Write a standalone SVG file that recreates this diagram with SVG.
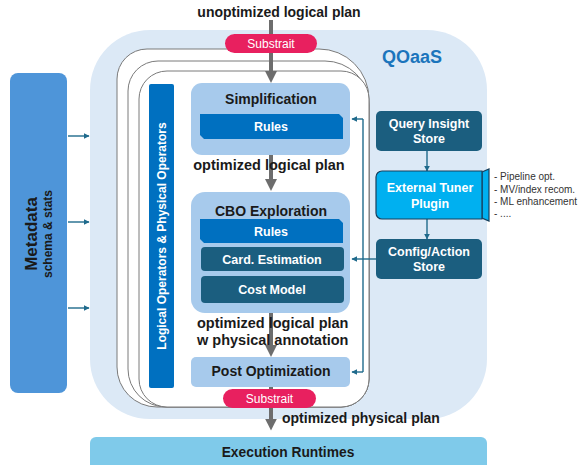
<svg xmlns="http://www.w3.org/2000/svg" width="579" height="465" viewBox="0 0 579 465">
<defs>
<style>
text{font-family:"Liberation Sans",Arial,sans-serif;}
.b{font-weight:bold;}
.w{fill:#ffffff;}
.k{fill:#1a1a1a;}
.frame{fill:#ffffff;stroke:#7a7a7a;stroke-width:1;}
.lb{fill:#a7caec;}
.teal{fill:#1b5e7f;}
.pill{fill:#e8205f;}
.flow{stroke:#6d6d6d;stroke-width:4;fill:none;}
.thin{stroke:#1f6a8c;stroke-width:1.4;fill:none;}
</style>
<marker id="ga" viewBox="0 0 10 10" refX="2" refY="5" markerWidth="12" markerHeight="12" markerUnits="userSpaceOnUse" orient="auto">
<path d="M0,0 L10,5 L0,10 z" fill="#6d6d6d"/>
</marker>
<marker id="ta" viewBox="0 0 10 10" refX="9" refY="5" markerWidth="6" markerHeight="6" markerUnits="userSpaceOnUse" orient="auto">
<path d="M0,0 L10,5 L0,10 z" fill="#1f6a8c"/>
</marker>
</defs>

<g id="qoaas">
<path d="M150 30 H427 A60 60 0 0 1 487 90 V359 A60 60 0 0 1 427 419 H150 A60 60 0 0 1 90 359 V90 A60 60 0 0 1 150 30 Z" fill="#dce9f6"/>
<text x="412" y="62.5" class="b" font-size="18" fill="#1b75bc" text-anchor="middle">QOaaS</text>
</g>

<g id="metadata">
<rect x="10" y="73" width="57" height="320" rx="8" fill="#4e95d9"/>
<text transform="translate(37,234) rotate(-90)" class="b k" font-size="17" text-anchor="middle">Metadata</text>
<text transform="translate(52,234) rotate(-90)" class="b k" font-size="12" text-anchor="middle">schema &amp; stats</text>
</g>

<g id="frames">
<path class="frame" d="M147 49 H319 A50 50 0 0 1 369 99 V379 A28 28 0 0 1 341 407 H157 A40 40 0 0 1 117 367 V79 A30 30 0 0 1 147 49 Z"/>
<path class="frame" d="M158 61 H325 A44 44 0 0 1 369 105 V379 A28 28 0 0 1 341 407 H166 A38 38 0 0 1 128 369 V91 A30 30 0 0 1 158 61 Z"/>
<rect class="frame" x="139" y="71" width="230" height="336" rx="28"/>
</g>

<g id="operators-bar">
<rect x="149" y="84" width="25" height="304" rx="2" fill="#0070c0"/>
<text transform="translate(166,236) rotate(-90)" class="b w" font-size="12" text-anchor="middle">Logical Operators &amp; Physical Operators</text>
</g>

<g id="execution">
<rect x="90" y="437" width="397" height="40" rx="6" fill="#7fcaea"/>
<text x="288" y="457" class="b k" font-size="13.8" text-anchor="middle">Execution Runtimes</text>
</g>

<g id="connectors">
<line class="flow" x1="271" y1="20" x2="271" y2="73.4" marker-end="url(#ga)"/>
<line class="flow" x1="271" y1="155" x2="271" y2="181.4" marker-end="url(#ga)"/>
<line class="flow" x1="271" y1="313" x2="271" y2="347.4" marker-end="url(#ga)"/>
<line class="flow" x1="271" y1="387" x2="271" y2="421" marker-end="url(#ga)"/>
<line class="thin" x1="68" y1="136" x2="89" y2="136" marker-end="url(#ta)"/>
<line class="thin" x1="68" y1="222" x2="89" y2="222" marker-end="url(#ta)"/>
<line class="thin" x1="68" y1="308" x2="89" y2="308" marker-end="url(#ta)"/>
<polyline class="thin" points="363,119 363,372"/>
<line class="thin" x1="363" y1="119" x2="352" y2="119" marker-end="url(#ta)"/>
<line class="thin" x1="363" y1="372" x2="352" y2="372" marker-end="url(#ta)"/>
<line class="thin" x1="376" y1="259" x2="352" y2="259" marker-end="url(#ta)"/>
<line class="thin" x1="427" y1="151" x2="427" y2="171" marker-end="url(#ta)"/>
<line class="thin" x1="427" y1="219" x2="427" y2="239" marker-end="url(#ta)"/>
</g>

<g id="substrait-in">
<rect class="pill" x="225" y="34" width="92" height="19" rx="9.5"/>
<text x="271" y="48" class="w" font-size="12" text-anchor="middle">Substrait</text>
</g>
<text x="279" y="16.5" class="b k" font-size="14" text-anchor="middle">unoptimized logical plan</text>

<g id="simplification">
<rect class="lb" x="191" y="83" width="159" height="72" rx="11"/>
<text x="271" y="104" class="b k" font-size="14" text-anchor="middle">Simplification</text>
<polygon points="200,114 339,114 343,118 343,139 204,139 200,135" fill="#0070c0"/>
<text x="271" y="131" class="b w" font-size="12.5" text-anchor="middle">Rules</text>
</g>

<text x="269" y="170" class="b k" font-size="14.5" text-anchor="middle">optimized logical plan</text>

<g id="cbo">
<rect class="lb" x="191" y="192" width="159" height="121" rx="14"/>
<text x="271" y="216" class="b k" font-size="14" text-anchor="middle">CBO Exploration</text>
<polygon points="200,219 339,219 343,223 343,243 204,243 200,239" fill="#0070c0"/>
<text x="271" y="235.5" class="b w" font-size="12.5" text-anchor="middle">Rules</text>
<rect class="teal" x="201" y="247" width="143" height="24" rx="4"/>
<text x="272" y="263.5" class="b w" font-size="12.5" text-anchor="middle">Card. Estimation</text>
<rect class="teal" x="201" y="276" width="143" height="27" rx="4"/>
<text x="272" y="293.5" class="b w" font-size="12.5" text-anchor="middle">Cost Model</text>
</g>

<text x="197" y="328" class="b k" font-size="14.5">optimized logical plan</text>
<text x="197" y="345" class="b k" font-size="14.5">w physical annotation</text>

<g id="post-optimization">
<rect class="lb" x="191" y="357" width="159" height="30" rx="5"/>
<text x="271" y="376" class="b k" font-size="14" text-anchor="middle">Post Optimization</text>
</g>

<g id="substrait-out">
<rect class="pill" x="223" y="389" width="93" height="19" rx="9.5"/>
<text x="269.5" y="403" class="w" font-size="12" text-anchor="middle">Substrait</text>
</g>
<text x="282" y="422.5" class="b k" font-size="14">optimized physical plan</text>

<g id="query-insight-store">
<rect class="teal" x="376" y="111" width="106" height="40" rx="5"/>
<text x="429" y="128" class="b w" font-size="12.5" text-anchor="middle">Query Insight</text>
<text x="429" y="143" class="b w" font-size="12.5" text-anchor="middle">Store</text>
</g>

<g id="external-tuner-plugin">
<polygon points="482,172 489,169 489,221 482,218" fill="#00b0f0" stroke="#17405e" stroke-width="1.2"/>
<path d="M382 171 H482 V219 H382 A6 6 0 0 1 376 213 V177 A6 6 0 0 1 382 171 Z" fill="#00b0f0" stroke="#17405e" stroke-width="1.2"/>
<text x="430" y="192" class="b w" font-size="12.5" text-anchor="middle">External Tuner</text>
<text x="430" y="208" class="b w" font-size="12.5" text-anchor="middle">Plugin</text>
</g>

<g id="config-action-store">
<rect class="teal" x="376" y="239" width="106" height="40" rx="5"/>
<text x="429" y="256" class="b w" font-size="12.5" text-anchor="middle">Config/Action</text>
<text x="429" y="271" class="b w" font-size="12.5" text-anchor="middle">Store</text>
</g>

<g id="tuner-notes" font-size="10" fill="#333333">
<text x="494" y="180">- Pipeline opt.</text>
<text x="494" y="192.5">- MV/index recom.</text>
<text x="494" y="204.5">- ML enhancement</text>
<text x="494" y="216.5">- ....</text>
</g>
</svg>
